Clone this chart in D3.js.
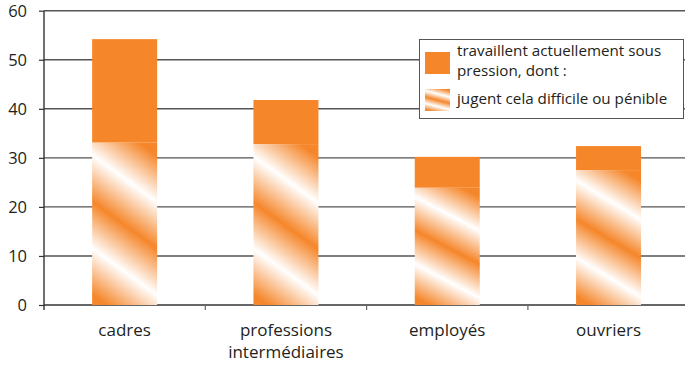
<!DOCTYPE html>
<html><head><meta charset="utf-8">
<script src="https://cdn.jsdelivr.net/npm/d3@7"></script>
<style>body{margin:0;background:#fff}svg{display:block}text{font-family:"Open Sans",Lato,sans-serif;fill:#231f20}</style>
</head><body><svg id="c" width="685" height="369"></svg>
<script>
const categories = ["cadres", "professions\nintermédiaires", "employés", "ouvriers"];
const pressure = [54.2, 41.8, 30.2, 32.4];
const difficult = [33.1, 32.8, 23.9, 27.5];
const yTicks = [0, 10, 20, 30, 40, 50, 60];
const legendLabels = ["travaillent actuellement sous\npression, dont :", "jugent cela difficile ou pénible"];

const orange = "#f5862a";
const svg = d3.select("#c");
const mLeft = 44, mTop = 10.7, mBottom = 305, mRight = 685;
const x = d3.scaleBand().domain(categories).range([mLeft, mLeft + 4 * 161.3]).paddingInner(0).paddingOuter(0);
const y = d3.scaleLinear().domain([0, 60]).range([mBottom, mTop]);
const barW = 65;

// gradient
const defs = svg.append("defs");
const g = defs.append("linearGradient").attr("id", "hatch")
  .attr("gradientUnits", "objectBoundingBox")
  .attr("x1", 0.724).attr("y1", 0).attr("x2", 0.417).attr("y2", 1.057);
[[0, orange], [0.25, "#ffffff"], [0.5, orange], [0.75, "#ffffff"], [1, orange]].forEach(([o, c]) =>
  g.append("stop").attr("offset", o).attr("stop-color", c));

// gridlines
svg.append("g").selectAll("line").data(yTicks.filter(d => d > 0)).join("line")
  .attr("x1", mLeft).attr("x2", mRight).attr("y1", d => y(d)).attr("y2", d => y(d))
  .attr("stroke", "#555").attr("stroke-width", 1.4);

// y axis
const yAxis = svg.append("g").attr("transform", `translate(${mLeft},0)`)
  .call(d3.axisLeft(y).tickValues(yTicks).tickSize(5).tickPadding(12).tickFormat(d3.format("d")));
yAxis.select(".domain").remove();
yAxis.selectAll(".tick line").attr("stroke", "#333").attr("stroke-width", 1.2);
yAxis.selectAll(".tick text").style("font-size", "16.5px").attr("fill", "#231f20").attr("dy", "0.36em");
svg.append("line").attr("x1", mLeft).attr("x2", mLeft).attr("y1", mTop).attr("y2", mBottom + 5)
  .attr("stroke", "#333").attr("stroke-width", 1.4);

// x axis
const xAxis = svg.append("g").attr("transform", `translate(0,${mBottom})`)
  .call(d3.axisBottom(x).tickSize(0).tickFormat(""));
xAxis.select(".domain").remove();
svg.append("line").attr("x1", mLeft).attr("x2", mRight).attr("y1", mBottom).attr("y2", mBottom)
  .attr("stroke", "#333").attr("stroke-width", 1.4);
svg.append("g").selectAll("line").data(categories).join("line")
  .attr("x1", d => x(d) + x.bandwidth()).attr("x2", d => x(d) + x.bandwidth())
  .attr("y1", mBottom).attr("y2", mBottom + 5).attr("stroke", "#666").attr("stroke-width", 1.2);

// bars
const bars = svg.append("g");
bars.selectAll("rect.p").data(categories).join("rect").attr("class", "p")
  .attr("x", d => x(d) + (x.bandwidth() - barW) / 2).attr("width", barW)
  .attr("y", (d, i) => y(pressure[i])).attr("height", (d, i) => y(difficult[i]) - y(pressure[i]))
  .attr("fill", orange);
bars.selectAll("rect.d").data(categories).join("rect").attr("class", "d")
  .attr("x", d => x(d) + (x.bandwidth() - barW) / 2).attr("width", barW)
  .attr("y", (d, i) => y(difficult[i])).attr("height", (d, i) => y(0) - y(difficult[i]))
  .attr("fill", "url(#hatch)");

// category labels (one text per line)
const catG = svg.append("g");
categories.forEach(d => {
  d.split("\n").forEach((l, i) => catG.append("text")
    .attr("x", x(d) + x.bandwidth() / 2).attr("y", 336 + i * 22)
    .attr("text-anchor", "middle").style("font-size", "17px").text(l));
});

// legend
const lg = svg.append("g");
lg.append("rect").attr("x", 419.5).attr("y", 39.5).attr("width", 264).attr("height", 79)
  .attr("fill", "#fff").attr("stroke", "#555").attr("stroke-width", 1);
lg.append("rect").attr("x", 425).attr("y", 52).attr("width", 25).attr("height", 22).attr("fill", orange);
lg.append("rect").attr("x", 425).attr("y", 89).attr("width", 25).attr("height", 22).attr("fill", "url(#hatch)");
const ly = [56, 104];
legendLabels.forEach((t, i) => {
  t.split("\n").forEach((l, j) => lg.append("text").attr("x", 457).attr("y", ly[i] + j * 19.5)
    .style("font-size", "15.2px").text(l));
});
</script></body></html>
